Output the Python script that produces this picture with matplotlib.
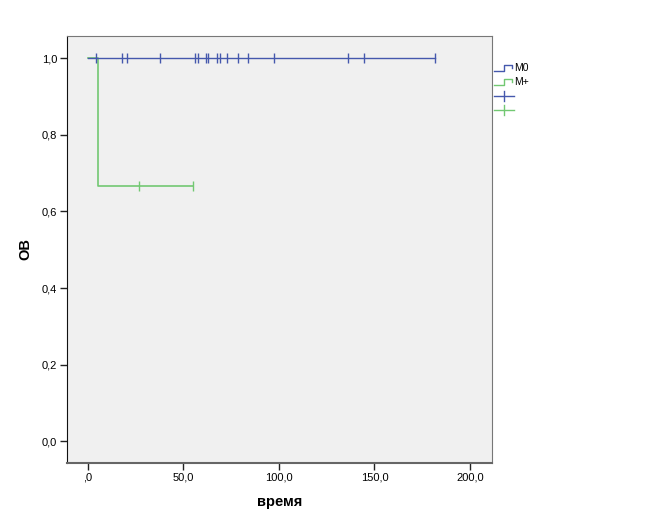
import matplotlib
matplotlib.use('Agg')
from matplotlib import pyplot as plt
from matplotlib.lines import Line2D

# survival steps (time, OB)
m0_times = [0, 181.5]
m0_surv = [1.0, 1.0]
m0_censored = [4.3, 18.0, 20.6, 37.9, 56.2, 57.5, 61.9, 63.0, 67.4, 69.0,
               72.7, 78.4, 83.9, 97.2, 136.3, 144.3, 181.5]

mp_times = [0, 5.2, 55.3]
mp_surv = [1.0, 0.667, 0.667]
mp_censored = [26.9, 55.3]
mp_cens_surv = [0.667, 0.667]

group_labels = ['M0', 'M+']
x_ticks = [0, 50, 100, 150, 200]
x_ticklabels = [',0', '50,0', '100,0', '150,0', '200,0']
y_ticks = [0, 0.2, 0.4, 0.6, 0.8, 1.0]
y_ticklabels = ['0,0', '0,2', '0,4', '0,6', '0,8', '1,0']

blue = '#4558ad'
green = '#72c872'

plt.rcParams['font.family'] = ['Liberation Sans', 'DejaVu Sans']

fig = plt.figure(figsize=(6.58, 5.28), dpi=100)
ax = fig.add_axes([0.1014, 0.1237, 0.646, 0.808])
ax.set_facecolor('#f0f0f0')

ax.step(mp_times, mp_surv, where='post', color=green, lw=1.2, zorder=2)
ax.plot(mp_censored, mp_cens_surv, ls='none', marker='|', ms=7, mew=1,
        color=green, zorder=2)
ax.step(m0_times, m0_surv, where='post', color=blue, lw=1, zorder=3)
ax.plot(m0_censored, [1.0] * len(m0_censored), ls='none', marker='|',
        ms=7, mew=1, color=blue, zorder=3)

ax.set_xlim(-11, 211.4)
ax.set_ylim(-0.056, 1.058)
ax.set_xticks(x_ticks)
ax.set_xticklabels(x_ticklabels, fontsize=8)
ax.set_yticks(y_ticks)
ax.set_yticklabels(y_ticklabels, fontsize=8)
ax.tick_params(direction='out', length=5, width=1, color='#222222', pad=2)

for side in ['top', 'right']:
    ax.spines[side].set_color('#777777')
ax.spines['bottom'].set_color('#666666')
ax.spines['bottom'].set_linewidth(1.5)
ax.spines['left'].set_color('#111111')

ax.set_xlabel('время', fontsize=10.5, fontweight='bold', labelpad=9)
ax.set_ylabel('ОВ', fontsize=10.5, fontweight='bold', labelpad=7)

# legend drawn by hand outside the axes
W, H = 658.0, 528.0
def fx(px):
    return px / W
def fy(py):
    return 1 - py / H

for i, (lab, col) in enumerate(zip(group_labels, [blue, green])):
    y0 = 71 + i * 14
    xs = [494, 504, 504, 512, 512]
    ys = [y0, y0, y0 - 6, y0 - 6, y0 - 3]
    fig.add_artist(Line2D([fx(v) for v in xs], [fy(v) for v in ys],
                          transform=fig.transFigure, color=col, lw=1))
    fig.text(fx(514), fy(y0 - 3), lab, fontsize=7.5, va='center', ha='left')

for i, col in enumerate([blue, green]):
    y0 = 96 + i * 14
    fig.add_artist(Line2D([fx(494), fx(514)], [fy(y0), fy(y0)],
                          transform=fig.transFigure, color=col, lw=1))
    fig.add_artist(Line2D([fx(504), fx(504)], [fy(y0 - 5), fy(y0 + 5)],
                          transform=fig.transFigure, color=col, lw=1))

fig.savefig('out.png', dpi=100, facecolor='white')
